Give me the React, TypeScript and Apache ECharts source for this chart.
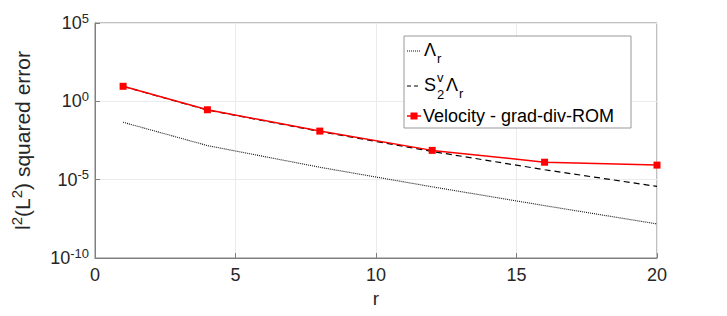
import React, { useEffect, useRef } from "react";
import * as echarts from "echarts";

const rValues = [1, 4, 8, 12, 16, 20];
const lambdaR = [0.046, 1.5e-3, 6.2e-5, 3.5e-6, 2.2e-7, 1.5e-8];
const s2vLambdaR = [9.0, 0.28, 0.012, 6.3e-4, 4.3e-5, 3.7e-6];
const velocityGradDiv = [9.1, 0.29, 0.0126, 7.4e-4, 1.3e-4, 8.5e-5];
const xTicks = [0, 5, 10, 15, 20];
const yTickExponents = [-10, -5, 0, 5];

const FONT = "Liberation Sans, Arial, Helvetica, sans-serif";
const TXT = "#262626";

export default function App() {
  const ref = useRef<HTMLDivElement>(null);
  useEffect(() => {
    document.body.style.margin = "0";
    if (!ref.current) return;
    const chart = echarts.init(ref.current, null, { renderer: "svg" });
    const pair = (ys: number[]) => rValues.map((r, i) => [r, ys[i]]);
    const t = (text: string, x: number, y: number, size: number) => ({
      type: "text",
      x,
      y,
      z: 101,
      style: { text, fontSize: size, fontFamily: FONT, fill: "#000", align: "left", verticalAlign: "middle" },
    });
    chart.setOption({
      animation: false,
      backgroundColor: "#fff",
      grid: { left: 95, top: 23, width: 562, height: 235, show: true, borderColor: "#808080", borderWidth: 1 },
      xAxis: {
        type: "value",
        min: xTicks[0],
        max: xTicks[xTicks.length - 1],
        interval: 5,
        name: "r",
        nameLocation: "middle",
        nameGap: 31,
        nameTextStyle: { fontSize: 19, fontFamily: FONT, color: TXT },
        axisLine: { lineStyle: { color: "#808080" } },
        axisTick: { inside: true, length: 5, lineStyle: { color: "#808080" } },
        axisLabel: { fontSize: 18, fontFamily: FONT, color: TXT, margin: 8 },
        splitLine: { show: true, lineStyle: { color: "#ebebeb" } },
      },
      yAxis: {
        type: "log",
        logBase: 10,
        min: Math.pow(10, yTickExponents[0]),
        max: Math.pow(10, yTickExponents[yTickExponents.length - 1]),
        interval: 5,
        name: "l{sup|2}(L{sup|2}) squared error",
        nameLocation: "middle",
        nameGap: 60,
        nameRotate: 90,
        nameTextStyle: {
          fontSize: 21,
          fontFamily: FONT,
          color: TXT,
          rich: { sup: { fontSize: 15, fontFamily: FONT, color: TXT, padding: [0, 0, 11, 0], verticalAlign: "bottom" } },
        },
        axisLine: { show: true, lineStyle: { color: "#808080" } },
        axisTick: { inside: true, length: 5, lineStyle: { color: "#808080" } },
        minorTick: { show: false },
        axisLabel: {
          fontSize: 18,
          fontFamily: FONT,
          color: TXT,
          margin: 6,
          formatter: (v: number) => {
            const e = Math.round(Math.log10(v));
            return `{b|10}{sup|${e}}`;
          },
          rich: {
            b: { fontSize: 18, fontFamily: FONT, color: TXT },
            sup: { fontSize: 13, fontFamily: FONT, color: TXT, padding: [0, 0, 10, 0], verticalAlign: "bottom" },
          },
        },
        splitLine: { show: true, lineStyle: { color: "#ebebeb" } },
      },
      series: [
        {
          name: "Λr",
          type: "line",
          data: pair(lambdaR),
          symbol: "none",
          lineStyle: { color: "#111", width: 1.1, type: [1, 1] },
          z: 2,
        },
        {
          name: "S2vΛr",
          type: "line",
          data: pair(s2vLambdaR),
          symbol: "none",
          lineStyle: { color: "#000", width: 1.2, type: [6, 4] },
          z: 3,
        },
        {
          name: "Velocity - grad-div-ROM",
          type: "line",
          data: pair(velocityGradDiv),
          symbol: "rect",
          symbolSize: 7,
          itemStyle: { color: "#ff0000" },
          lineStyle: { color: "#ff0000", width: 1.5 },
          z: 4,
        },
      ],
      graphic: [
        { type: "rect", z: 100, shape: { x: 404, y: 36, width: 227, height: 92 }, style: { fill: "#fff", stroke: "#999", lineWidth: 1 } },
        { type: "line", z: 101, shape: { x1: 407, y1: 51, x2: 421, y2: 51 }, style: { stroke: "#111", lineWidth: 1.1, lineDash: [1, 1] } },
        t("Λ", 424, 50, 18),
        t("r", 437, 58, 13),
        { type: "line", z: 101, shape: { x1: 407, y1: 86, x2: 421, y2: 86 }, style: { stroke: "#000", lineWidth: 1.2, lineDash: [4, 3] } },
        t("S", 424, 85, 18),
        t("v", 437, 77, 13),
        t("2", 437, 94, 13),
        t("Λ", 446, 85, 18),
        t("r", 459, 93, 13),
        { type: "line", z: 101, shape: { x1: 407, y1: 116, x2: 421, y2: 116 }, style: { stroke: "#ff0000", lineWidth: 1.5 } },
        { type: "rect", z: 102, shape: { x: 410.5, y: 112.5, width: 7, height: 7 }, style: { fill: "#ff0000" } },
        t("Velocity - grad-div-ROM", 423, 116, 18),
      ],
    });
    return () => chart.dispose();
  }, []);
  return <div ref={ref} style={{ width: 727, height: 316 }} />;
}
